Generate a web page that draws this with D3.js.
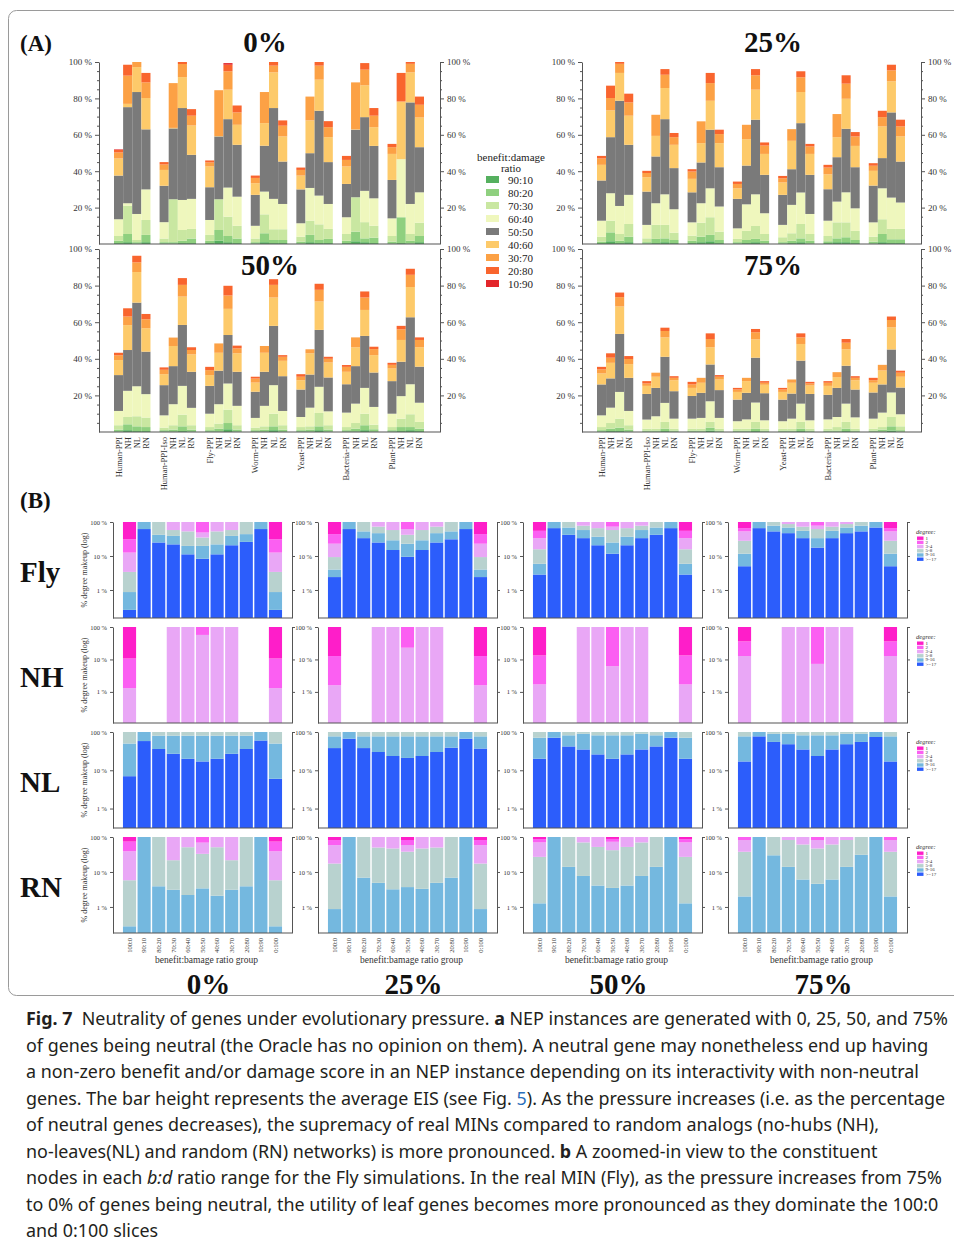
<!DOCTYPE html>
<html>
<head>
<meta charset="utf-8">
<script src="https://cdn.jsdelivr.net/npm/d3@7"></script>
<style>
  body { margin: 0; background: #fff; }
  svg { display: block; }
</style>
</head>
<body>
<script>
    // ---------- panel A data ----------
    var species = ['Human-PPI', 'Human-PPI-Iso', 'Fly-PPI', 'Worm-PPI', 'Yeast-PPI', 'Bacteria-PPI', 'Plant-PPI'];
    var netTypes = ['PPI', 'NH', 'NL', 'RN'];
    var ratioKeys = ['90:10', '80:20', '70:30', '60:40', '50:50', '40:60', '30:70', '20:80', '10:90'];
    var ratioColors = ['#55b05f', '#8fd07f', '#c9e7a1', '#eff7bd', '#7a7a7a', '#fdca6a', '#fca145', '#f9652e', '#e3262a'];
    var tickA = [20, 40, 60, 80, 100];

    // cumulative top (% of max EIS) of each ratio class, per bar (species x network)
    var eis0 = [
        [0.5, 1.8, 4.4, 13.6, 37.6, 47, 50.3, 51.7, 52],
        [1, 5.5, 21, 22.4, 75.2, 77, 92.5, 98.5, 98.5],
        [0.3, 1, 2.2, 16.5, 83.5, 97.2, 100, 100, 100],
        [1, 5, 13.2, 30, 63, 80.2, 88.8, 94, 94],
        [0.3, 1, 3, 12, 32, 40.7, 43.7, 45, 45],
        [0.3, 1, 24.6, 24.6, 63.5, 63.8, 88.4, 88.4, 88.4],
        [0.5, 1.8, 7.7, 24.2, 74.7, 91.7, 98.9, 100, 100],
        [0.5, 3, 8.3, 24.8, 49, 65.1, 70.5, 74.1, 74.1],
        [0.5, 1.8, 5, 13.2, 31.2, 42.6, 44.8, 45.9, 45.9],
        [1.8, 7.7, 24.6, 24.6, 59.1, 59.3, 84.5, 84.5, 84.5],
        [1, 4.4, 15, 31, 68.6, 84.8, 94.9, 98.5, 99.4],
        [0.5, 3, 10, 26, 54.5, 65.5, 72.3, 76.1, 76.1],
        [0.3, 1, 3, 10, 27, 33.4, 36.3, 37.6, 37.6],
        [1, 5.9, 16.3, 28.8, 54, 66.4, 83.5, 83.5, 83.5],
        [0.5, 2.2, 8.1, 24.8, 74.7, 94.3, 98, 100, 100],
        [0.5, 2.2, 8.1, 22, 45.3, 59.1, 65, 67.9, 67.9],
        [0.3, 1.3, 4, 11.4, 30, 37.6, 40.7, 42, 42],
        [1, 5, 12.8, 30.8, 49.9, 67.9, 81, 81, 81],
        [0.5, 2.2, 10.8, 26.6, 73.2, 90.3, 98, 100, 100],
        [0.5, 2.8, 8.3, 22, 45, 58.7, 64.2, 67.5, 67.5],
        [0.5, 1.8, 5.5, 14.7, 33, 42.6, 46.2, 48.4, 48.4],
        [1.5, 6.8, 25.7, 25.7, 62.8, 63, 88.8, 88.8, 88.8],
        [1, 3.1, 12, 29.2, 69.7, 87.2, 95.8, 99.4, 99.4],
        [0.5, 3.5, 10, 25.1, 53.9, 64.2, 70.5, 74.7, 74.7],
        [0.3, 1.3, 4.4, 14.1, 35.2, 49.5, 53.2, 55, 55],
        [0.5, 14.7, 14.7, 46.6, 46.6, 78.3, 78.3, 94, 94],
        [0.3, 1.8, 5.5, 22, 77.8, 94.3, 99, 100, 100],
        [1, 4.4, 11.7, 28.4, 53.2, 69.5, 76.5, 81, 81]
    ];
    var eis25 = [
        [0.5, 1.3, 4, 12.8, 34.9, 43.5, 47, 48.4, 48.4],
        [1.5, 6.4, 12.8, 27.9, 58.7, 73.4, 80.2, 87, 87],
        [0.5, 1.8, 5.5, 20.9, 78.7, 94, 99, 100, 100],
        [1, 4, 11, 27, 54.5, 70.5, 77.8, 82.6, 82.6],
        [0.3, 1, 3.1, 10.5, 28.8, 36.7, 39, 40.2, 40.2],
        [0.5, 2.8, 10.5, 22.4, 48.1, 59.4, 71, 71, 71],
        [1, 3.1, 10.5, 27.3, 68.6, 85.7, 93, 96.1, 96.1],
        [0.5, 2.2, 6.2, 19.1, 41.7, 54.5, 58.7, 61, 61],
        [0.5, 1.8, 4.6, 11.9, 28.4, 35.8, 39.8, 41.1, 41.1],
        [1, 4, 11.7, 22.4, 44.8, 55.4, 67.4, 67.4, 67.4],
        [1.5, 5, 14.7, 30.6, 62.8, 78.7, 88.4, 94, 94],
        [0.5, 2.2, 6.8, 20.6, 42.2, 55.4, 60.4, 62.8, 62.8],
        [0.3, 1, 2.8, 8.6, 24.8, 30.6, 33, 34.3, 34.3],
        [0.5, 2.2, 7.2, 21.8, 43.1, 57.6, 65.5, 65.5, 65.5],
        [1, 2.8, 9.9, 27.3, 68.3, 84.8, 92.7, 96.1, 96.1],
        [0.3, 1.8, 5.5, 16.9, 38, 49.5, 54.1, 55.8, 55.8],
        [0.3, 1, 3.7, 10.5, 27, 33.8, 36.1, 37.4, 37.4],
        [0.5, 1.8, 5.9, 21.5, 41.1, 56.7, 63.1, 63.1, 63.1],
        [1, 3.1, 11, 28.3, 66.4, 83.5, 91.6, 94.9, 94.9],
        [0.3, 1.8, 5.5, 16.5, 38, 49.5, 53.6, 55, 55],
        [0.5, 1.5, 4.4, 12.8, 30.1, 38.3, 42, 43.5, 43.5],
        [1, 3.1, 11.9, 23.3, 47.7, 58.7, 71.4, 71.4, 71.4],
        [1, 3.7, 11.9, 28.4, 63.3, 79.8, 88.1, 92.7, 92.7],
        [0.5, 2.2, 7.2, 19.6, 42.2, 53.9, 59.1, 61.5, 61.5],
        [0.3, 1.3, 4, 11.9, 32.1, 40.2, 43, 44.4, 44.4],
        [1, 5.5, 13.6, 30.6, 47.2, 64.6, 69.7, 73.2, 73.2],
        [0.5, 2.6, 8.3, 25.5, 72.3, 89.4, 95.4, 98.5, 98.5],
        [0.5, 2.6, 8.3, 22.8, 45.3, 59.1, 64.6, 68.3, 68.3]
    ];
    var eis50 = [
        [0.3, 1.3, 3.7, 11.5, 31.1, 39.3, 41.9, 43.3, 43.3],
        [1, 4.2, 8.2, 22.5, 44.8, 58.4, 63.1, 67.6, 67.6],
        [0.5, 3.1, 8.6, 25, 70.7, 87.4, 92.7, 96.3, 96.3],
        [0.5, 2.7, 7.9, 20.7, 43.9, 56.7, 61.6, 64.5, 64.5],
        [0.3, 1, 2.4, 9.1, 25.6, 31.6, 34, 35.3, 35.3],
        [0.3, 1.3, 3.7, 15.2, 36, 47, 51.6, 51.6, 51.6],
        [0.5, 3.1, 9.5, 25.2, 58.5, 74, 80.4, 84.1, 84.1],
        [0.3, 1.3, 3.7, 13.2, 32.9, 42.4, 44.8, 46.3, 46.3],
        [0.3, 1, 2.7, 10, 25.2, 31.1, 33.8, 35.6, 35.6],
        [0.3, 1.8, 4.6, 15.2, 33.5, 43.3, 48.4, 48.4, 48.4],
        [1.5, 4.9, 12.2, 26.5, 53, 67.3, 74.6, 79.9, 79.9],
        [0.3, 1.3, 3.7, 14.3, 32.9, 43, 45.7, 47.2, 47.2],
        [0.3, 1, 2.4, 7.7, 22, 27, 29.2, 30.2, 30.2],
        [0.3, 1.3, 3.1, 14.3, 32.9, 43.3, 47, 47, 47],
        [1, 3.1, 10, 25.6, 58, 73.5, 80.4, 83.5, 83.5],
        [0.3, 1.3, 3.7, 11.5, 30.5, 38.9, 41.1, 42, 42],
        [0.3, 1, 2.7, 8.2, 23.2, 28.3, 30.2, 31.6, 31.6],
        [0.3, 1.3, 3.1, 13.3, 31.4, 43, 45.2, 45.2, 45.2],
        [1, 3.1, 10.4, 24.7, 55.8, 71.3, 77.7, 81, 81],
        [0.3, 1.3, 3.7, 11.3, 29.8, 38, 40, 41.1, 41.1],
        [0.3, 1, 2.7, 10.6, 26.1, 32.9, 35.6, 36.6, 36.6],
        [0.3, 1.8, 4.9, 15.5, 36, 46.3, 51.7, 51.7, 51.7],
        [1, 3.7, 10, 24.1, 52.5, 66.7, 73.5, 76.8, 76.8],
        [0.3, 1.5, 4, 13.7, 32.5, 42, 45.3, 46.6, 46.6],
        [0.3, 1, 2.7, 10, 27.8, 34.7, 36.7, 37.8, 37.8],
        [0.5, 2.7, 7.3, 19.6, 38.4, 50.3, 56.1, 58, 58],
        [1, 2.7, 9.7, 26.1, 62.7, 79.2, 85.9, 89.2, 89.2],
        [0.5, 1.8, 5.5, 16, 35.7, 46.3, 50.3, 51.7, 51.7]
    ];
    var eis75 = [
        [0.3, 1, 2.7, 9.1, 26, 32, 34.2, 35.6, 35.6],
        [0.5, 1.8, 4.9, 13.3, 29.3, 37.8, 40.6, 43, 43],
        [0.5, 2.4, 7.3, 21.9, 53.6, 68.6, 73.7, 76.2, 76.2],
        [0.3, 1.3, 3.7, 11.5, 29.6, 37.1, 39.9, 41.5, 41.5],
        [0.2, 0.8, 1.8, 6.8, 20.8, 25.2, 26.5, 27.8, 27.8],
        [0.2, 0.8, 1.8, 8.6, 24.1, 30.2, 32.4, 32.4, 32.4],
        [0.5, 1.8, 5.5, 15.9, 41.1, 51.7, 55.2, 57, 57],
        [0.2, 0.8, 1.8, 7.3, 22.3, 28.3, 29.6, 30.5, 30.5],
        [0.2, 0.8, 1.8, 7.3, 19.7, 24.1, 26, 27.4, 27.4],
        [0.2, 0.8, 1.8, 7.7, 21.4, 26.9, 29.6, 29.6, 29.6],
        [0.8, 2.4, 5.5, 16.8, 36.9, 46.3, 50.8, 53.9, 53.9],
        [0.2, 0.8, 1.8, 7.7, 22.9, 28.7, 30.2, 31.1, 31.1],
        [0.2, 0.8, 1.8, 5.9, 17.7, 21.9, 23.2, 24.1, 24.1],
        [0.2, 0.8, 1.8, 6.9, 21.4, 27.8, 29.6, 29.6, 29.6],
        [0.5, 1.8, 5.5, 16.1, 40.6, 50.6, 54.5, 56.3, 56.3],
        [0.2, 0.8, 1.8, 6.4, 21.2, 25.8, 26.9, 27.8, 27.8],
        [0.2, 0.8, 1.8, 5.9, 17.7, 21.9, 23.2, 24.1, 24.1],
        [0.2, 0.8, 1.8, 7.3, 21, 26.9, 28.7, 28.7, 28.7],
        [0.5, 1.8, 5.5, 15.5, 39, 48.1, 51.7, 53.9, 53.9],
        [0.2, 0.8, 1.8, 6.4, 20.8, 25.4, 26.5, 27.4, 27.4],
        [0.2, 0.8, 1.8, 6.9, 20.3, 25.2, 26.9, 27.8, 27.8],
        [0.2, 0.8, 2.7, 8.2, 24.1, 30, 32.7, 32.7, 32.7],
        [0.5, 1.8, 5.5, 15.5, 36.2, 45.2, 48.8, 50.8, 50.8],
        [0.2, 0.8, 1.8, 8, 23.2, 28.3, 29.6, 30.5, 30.5],
        [0.2, 0.8, 1.8, 7.3, 21.6, 26.9, 28.3, 29.6, 29.6],
        [0.3, 1.3, 2.7, 10.6, 26, 33.6, 36.7, 36.7, 36.7],
        [0.8, 3.1, 8.2, 21.6, 45.1, 57.2, 61.2, 63.1, 63.1],
        [0.2, 1, 3.1, 9.7, 24.3, 30.2, 32.4, 33.5, 33.5]
    ];

    // ---------- panel B data ----------
    var ratioGroups = ['100:0', '90:10', '80:20', '70:30', '60:40', '50:50', '40:60', '30:70', '20:80', '10:90', '0:100'];
    var degreeKeys = ['>=17', '9-16', '5-8', '3-4', '2', '1'];
    var degreeColors = ['#2c5dfb', '#74b8df', '#b8d2cf', '#e9a7f6', '#fb5ff2', '#fe1ec9'];
    var pressureLabels = ['0%', '25%', '50%', '75%'];

    // cumulative % of nodes up to each degree class (>=17, 9-16, 5-8, 3-4, 2); the rest is degree 1
    var fly0 = [[0.26, 0.87, 3.4, 12.6, 31], [62, 100, 100, 100, 100], [25, 42, 100, 100, 100], [22, 39, 58, 100, 100], [11.2, 19.8, 53, 100, 100], [8.3, 19.8, 35, 49, 100], [11.2, 22, 53, 100, 100], [20.7, 39, 58, 100, 100], [26, 44, 100, 100, 100], [62, 100, 100, 100, 100], [0.26, 0.87, 3.4, 12.6, 31]];
    var fly25 = [[2.4, 4, 9.3, 23, 44], [62, 100, 100, 100, 100], [33.5, 53, 100, 100, 100], [25, 47, 73, 100, 100], [15, 29, 58, 100, 100], [9.5, 23, 42, 62, 100], [15, 29, 58, 100, 100], [25, 47, 73, 100, 100], [31, 53, 100, 100, 100], [62, 100, 100, 100, 100], [2.4, 4, 9.3, 23, 44]];
    var fly50 = [[2.85, 5.9, 15.8, 33.5, 55], [66, 100, 100, 100, 100], [42, 69, 100, 100, 100], [33.5, 58, 78, 100, 100], [20.7, 37, 66, 100, 100], [11.7, 25, 58, 73, 100], [20.7, 37, 66, 100, 100], [33.5, 58, 78, 100, 100], [42, 69, 100, 100, 100], [66, 100, 100, 100, 100], [2.85, 5.9, 15.8, 33.5, 55]];
    var fly75 = [[5, 11.7, 28, 53, 66], [66, 100, 100, 100, 100], [53, 78, 100, 100, 100], [47, 69, 87, 100, 100], [33.5, 55, 73, 100, 100], [17.7, 33.5, 62, 78, 100], [33.5, 55, 73, 100, 100], [47, 69, 87, 100, 100], [53, 78, 100, 100, 100], [69, 100, 100, 100, 100], [5, 11.7, 28, 53, 66]];

    var nh0 = [[0, 0, 0, 1.3, 10.7], null, null, [0, 0, 0, 100, 100], [0, 0, 0, 100, 100], [0, 0, 0, 57, 100], [0, 0, 0, 100, 100], [0, 0, 0, 100, 100], null, null, [0, 0, 0, 1.3, 10.7]];
    var nh25 = [[0, 0, 0, 1.6, 12.7], null, null, [0, 0, 0, 100, 100], [0, 0, 0, 100, 100], [0, 0, 0, 23, 100], [0, 0, 0, 100, 100], [0, 0, 0, 100, 100], null, null, [0, 0, 0, 1.6, 12.7]];
    var nh50 = [[0, 0, 0, 1.7, 13.3], null, null, [0, 0, 0, 100, 100], [0, 0, 0, 100, 100], [0, 0, 0, 6.2, 100], [0, 0, 0, 100, 100], [0, 0, 0, 100, 100], null, null, [0, 0, 0, 1.7, 13.3]];
    var nh75 = [[0, 0, 0, 12.7, 36], null, null, [0, 0, 0, 100, 100], [0, 0, 0, 100, 100], [0, 0, 0, 7.3, 100], [0, 0, 0, 100, 100], [0, 0, 0, 100, 100], null, null, [0, 0, 0, 12.7, 36]];

    var nl0 = [[7, 50, 100, 100, 100], [58, 100, 100, 100, 100], [36, 80, 100, 100, 100], [27, 80, 100, 100, 100], [20, 80, 100, 100, 100], [17, 80, 100, 100, 100], [20, 80, 100, 100, 100], [27, 80, 100, 100, 100], [36, 80, 100, 100, 100], [60, 100, 100, 100, 100], [6, 50, 100, 100, 100]];
    var nl25 = [[38, 77, 100, 100, 100], [67, 100, 100, 100, 100], [38, 77, 100, 100, 100], [30, 77, 100, 100, 100], [23.6, 77, 100, 100, 100], [21, 77, 100, 100, 100], [23.6, 77, 100, 100, 100], [30, 77, 100, 100, 100], [39, 77, 100, 100, 100], [67, 100, 100, 100, 100], [37, 77, 100, 100, 100]];
    var nl50 = [[20, 71, 100, 100, 100], [71, 100, 100, 100, 100], [42, 82, 100, 100, 100], [35, 90, 100, 100, 100], [26, 82, 100, 100, 100], [20, 82, 100, 100, 100], [26, 82, 100, 100, 100], [35, 90, 100, 100, 100], [42, 82, 100, 100, 100], [71, 100, 100, 100, 100], [20, 71, 100, 100, 100]];
    var nl75 = [[17, 77, 100, 100, 100], [77, 100, 100, 100, 100], [55, 90, 100, 100, 100], [48, 90, 100, 100, 100], [35, 82, 100, 100, 100], [23.6, 82, 100, 100, 100], [35, 82, 100, 100, 100], [48, 90, 100, 100, 100], [55, 90, 100, 100, 100], [74, 100, 100, 100, 100], [17, 77, 100, 100, 100]];

    var rn0 = [[0, 0.28, 5.8, 39, 74], [0, 100, 100, 100, 100], [0, 3.9, 100, 100, 100], [0, 3.1, 21.7, 100, 100], [0, 2.2, 51, 100, 100], [0, 3.4, 33, 69, 100], [0, 2.1, 51, 100, 100], [0, 3.1, 21.7, 100, 100], [0, 3.9, 100, 100, 100], [0, 100, 100, 100, 100], [0, 0.28, 5.8, 39, 74]];
    var rn25 = [[0, 0.87, 17.4, 58.6, 81.7], [0, 100, 100, 100, 100], [0, 6.9, 100, 100, 100], [0, 4.9, 50, 100, 100], [0, 3.2, 47, 100, 100], [0, 3.7, 38, 59, 82], [0, 3.3, 47, 100, 100], [0, 4.9, 50, 100, 100], [0, 6.9, 100, 100, 100], [0, 100, 100, 100, 100], [0, 0.87, 17.4, 58.6, 81.7]];
    var rn50 = [[0, 1.27, 27, 70, 87], [0, 100, 100, 100, 100], [0, 14, 100, 100, 100], [0, 7.7, 70, 100, 100], [0, 4.1, 52, 100, 100], [0, 3.5, 42, 73, 88], [0, 4.1, 52, 100, 100], [0, 7.7, 70, 100, 100], [0, 14, 100, 100, 100], [0, 100, 100, 100, 100], [0, 1.27, 27, 70, 87]];
    var rn75 = [[0, 2, 37.8, 81.6, 100], [0, 100, 100, 100, 100], [0, 30, 100, 100, 100], [0, 14, 82, 100, 100], [0, 6.1, 61, 100, 100], [0, 4.6, 47, 82, 100], [0, 6.1, 61, 100, 100], [0, 14, 82, 100, 100], [0, 31, 100, 100, 100], [0, 100, 100, 100, 100], [0, 2, 37.8, 81.6, 100]];

    var width = 954;
    var height = 1246;
    var serif = "'Liberation Serif', 'DejaVu Serif', serif";
    var axisColor = '#555';

    var svg = d3.select('body')
        .append('svg')
        .attr('width', width)
        .attr('height', height);

    // figure frame
    svg.append('rect')
        .attr('x', 8.5).attr('y', 10.5)
        .attr('width', 970).attr('height', 985)
        .attr('rx', 8)
        .attr('fill', 'none')
        .attr('stroke', '#9a9a9a');

    var styleAxis = (g, size) => {
        g.selectAll('path, line').attr('stroke', axisColor);
        g.selectAll('text')
            .attr('font-family', serif)
            .attr('font-size', size)
            .attr('fill', '#333');
    };

    // ---------- panel A ----------
    var panelsA = [
        {title: '0%', data: eis0, x0: 99, x1: 440, y0: 62, y1: 244, tx: 265, ty: 52, labels: false},
        {title: '25%', data: eis25, x0: 582, x1: 921, y0: 62, y1: 244, tx: 773, ty: 52, labels: false},
        {title: '50%', data: eis50, x0: 99, x1: 440, y0: 249, y1: 432, tx: 270, ty: 275, labels: true},
        {title: '75%', data: eis75, x0: 582, x1: 921, y0: 249, y1: 432, tx: 773, ty: 275, labels: true}
    ];

    var drawPanelA = (p) => {
        var g = svg.append('g');

        var yScale = d3.scaleLinear().domain([0, 100]).range([p.y1, p.y0]);
        var xGroup = d3.scaleBand().domain(species).range([p.x0 + 15, p.x1 - 16]).paddingInner(0.2);
        var xInner = d3.scaleBand().domain(netTypes).range([0, xGroup.bandwidth()]);

        p.data.forEach((cum, i) => {
            var sp = species[Math.floor(i / 4)];
            var nt = netTypes[i % 4];
            var x = xGroup(sp) + xInner(nt);
            cum.forEach((top, j) => {
                var bottom = j === 0 ? 0 : cum[j - 1];
                if (top <= bottom) return;
                g.append('rect')
                    .attr('x', x)
                    .attr('y', yScale(top))
                    .attr('width', xInner.bandwidth())
                    .attr('height', yScale(bottom) - yScale(top))
                    .attr('fill', ratioColors[j]);
            });

            if (p.labels) {
                g.append('text')
                    .attr('transform', 'translate(' + (x + xInner.bandwidth() / 2) + ',' + (p.y1 + 5) + ') rotate(-90)')
                    .attr('text-anchor', 'end')
                    .attr('dy', '0.35em')
                    .attr('font-family', serif)
                    .attr('font-size', 8.5)
                    .attr('fill', '#333')
                    .text(nt === 'PPI' ? sp : nt);
            }
        });

        var minor = d3.range(5, 100, 5).filter(d => d % 20 !== 0);

        var leftAxis = g.append('g')
            .attr('transform', 'translate(' + p.x0 + ',0)')
            .call(d3.axisLeft(yScale).tickValues(tickA).tickFormat(d => d + ' %').tickSize(4).tickSizeOuter(0));
        styleAxis(leftAxis, 9);
        g.append('g')
            .attr('transform', 'translate(' + p.x0 + ',0)')
            .call(d3.axisLeft(yScale).tickValues(minor).tickFormat('').tickSize(2).tickSizeOuter(0))
            .call(a => a.select('.domain').remove())
            .selectAll('line').attr('stroke', axisColor);

        var rightAxis = g.append('g')
            .attr('transform', 'translate(' + p.x1 + ',0)')
            .call(d3.axisRight(yScale).tickValues(tickA).tickFormat(d => d + ' %').tickSize(4).tickSizeOuter(0));
        styleAxis(rightAxis, 9);
        g.append('g')
            .attr('transform', 'translate(' + p.x1 + ',0)')
            .call(d3.axisRight(yScale).tickValues(minor).tickFormat('').tickSize(2).tickSizeOuter(0))
            .call(a => a.select('.domain').remove())
            .selectAll('line').attr('stroke', axisColor);

        g.append('line')
            .attr('x1', p.x0).attr('x2', p.x1)
            .attr('y1', p.y1).attr('y2', p.y1)
            .attr('stroke', axisColor)
            .attr('stroke-width', 1.2);

        g.append('text')
            .attr('x', p.tx).attr('y', p.ty)
            .attr('text-anchor', 'middle')
            .attr('font-family', serif)
            .attr('font-weight', 'bold')
            .attr('font-size', 29)
            .attr('fill', '#111')
            .text(p.title);
    };

    panelsA.forEach(drawPanelA);

    // legend for panel A
    var legA = svg.append('g').attr('transform', 'translate(486,0)');
    legA.append('text').attr('x', 25).attr('y', 161).attr('text-anchor', 'middle')
        .attr('font-family', serif).attr('font-size', 11).attr('fill', '#222').text('benefit:damage');
    legA.append('text').attr('x', 25).attr('y', 172).attr('text-anchor', 'middle')
        .attr('font-family', serif).attr('font-size', 11).attr('fill', '#222').text('ratio');
    ratioKeys.forEach((k, i) => {
        legA.append('rect')
            .attr('x', 0).attr('y', 176 + i * 13)
            .attr('width', 13).attr('height', 7)
            .attr('fill', ratioColors[i]);
        legA.append('text')
            .attr('x', 22).attr('y', 183.5 + i * 13)
            .attr('font-family', serif).attr('font-size', 11).attr('fill', '#222')
            .text(k);
    });

    svg.append('text').attr('x', 20).attr('y', 51)
        .attr('font-family', serif).attr('font-weight', 'bold').attr('font-size', 23).attr('fill', '#111')
        .text('(A)');
    svg.append('text').attr('x', 20).attr('y', 508)
        .attr('font-family', serif).attr('font-weight', 'bold').attr('font-size', 23).attr('fill', '#111')
        .text('(B)');

    // ---------- panel B ----------
    var rowsB = [
        {name: 'Fly', min: 0.15, data: [fly0, fly25, fly50, fly75]},
        {name: 'NH', min: 0.11, data: [nh0, nh25, nh50, nh75]},
        {name: 'NL', min: 0.31, data: [nl0, nl25, nl50, nl75]},
        {name: 'RN', min: 0.18, data: [rn0, rn25, rn50, rn75]}
    ];

    rowsB.forEach((row, r) => {
        var y0 = 522 + 105 * r;
        var y1 = y0 + 96;
        var yScale = d3.scaleLog().domain([row.min, 100]).range([y1, y0]).clamp(true);

        row.data.forEach((bars, c) => {
            var g = svg.append('g');
            var ax0 = 113 + 205 * c;
            var ax1 = 292 + 205 * c;
            var xScale = d3.scaleBand().domain(ratioGroups)
                .range([ax0 + 8.5, ax1 - 8.5]).padding(0.1);

            bars.forEach((cum, i) => {
                if (!cum) return;
                var bounds = [row.min].concat(cum).concat([100]);
                for (var j = 0; j < degreeKeys.length; j++) {
                    var lo = Math.max(bounds[j], row.min);
                    var hi = Math.max(bounds[j + 1], row.min);
                    if (hi <= lo) continue;
                    g.append('rect')
                        .attr('x', xScale(ratioGroups[i]))
                        .attr('y', yScale(hi))
                        .attr('width', xScale.bandwidth())
                        .attr('height', yScale(lo) - yScale(hi))
                        .attr('fill', degreeColors[j]);
                }
            });

            var la = g.append('g')
                .attr('transform', 'translate(' + ax0 + ',0)')
                .call(d3.axisLeft(yScale).tickValues([1, 10, 100]).tickFormat(d => d + ' %').tickSize(3).tickSizeOuter(0));
            styleAxis(la, 6.5);
            var ra = g.append('g')
                .attr('transform', 'translate(' + ax1 + ',0)')
                .call(d3.axisRight(yScale).tickValues([1, 10, 100]).tickFormat('').tickSize(3).tickSizeOuter(0));
            styleAxis(ra, 6.5);
            g.append('line')
                .attr('x1', ax0).attr('x2', ax1)
                .attr('y1', y1).attr('y2', y1)
                .attr('stroke', axisColor).attr('stroke-width', 1.2);

            if (c === 0) {
                g.append('text')
                    .attr('transform', 'translate(' + (ax0 - 26) + ',' + ((y0 + y1) / 2) + ') rotate(-90)')
                    .attr('text-anchor', 'middle')
                    .attr('font-family', serif).attr('font-size', 8).attr('fill', '#333')
                    .text('% degree makeup (log)');
            }

            if (r === rowsB.length - 1) {
                ratioGroups.forEach(k => {
                    g.append('text')
                        .attr('transform', 'translate(' + (xScale(k) + xScale.bandwidth() / 2) + ',' + (y1 + 5) + ') rotate(-90)')
                        .attr('text-anchor', 'end')
                        .attr('dy', '0.35em')
                        .attr('font-family', serif).attr('font-size', 6.5).attr('fill', '#333')
                        .text(k);
                });
                g.append('text')
                    .attr('x', (ax0 + ax1) / 2 + 4).attr('y', y1 + 30)
                    .attr('text-anchor', 'middle')
                    .attr('font-family', serif).attr('font-size', 9.5).attr('fill', '#333')
                    .text('benefit:bamage ratio group');
                g.append('text')
                    .attr('x', (ax0 + ax1) / 2 + 6).attr('y', y1 + 61)
                    .attr('text-anchor', 'middle')
                    .attr('font-family', serif).attr('font-weight', 'bold').attr('font-size', 29).attr('fill', '#111')
                    .text(pressureLabels[c]);
            }
        });

        // row label
        svg.append('text')
            .attr('x', 20).attr('y', y0 + 60)
            .attr('font-family', serif).attr('font-weight', 'bold').attr('font-size', 29).attr('fill', '#111')
            .text(row.name);

        // degree legend
        var leg = svg.append('g').attr('transform', 'translate(916,' + (y0 + 12) + ')');
        leg.append('text').attr('x', 0).attr('y', 0)
            .attr('font-family', serif).attr('font-style', 'italic').attr('font-size', 6.5).attr('fill', '#333')
            .text('degree:');
        degreeKeys.slice().reverse().forEach((k, i) => {
            leg.append('rect')
                .attr('x', 1).attr('y', 2.5 + i * 4.2)
                .attr('width', 6.5).attr('height', 3.4)
                .attr('fill', degreeColors[degreeKeys.length - 1 - i]);
            leg.append('text')
                .attr('x', 9.5).attr('y', 5.6 + i * 4.2)
                .attr('font-family', serif).attr('font-size', 5).attr('fill', '#333')
                .text(k);
        });
    });

    // ---------- caption ----------
    var captionLines = [
        [['Fig. 7', 'bold'], ['  Neutrality of genes under evolutionary pressure. '], ['a', 'bold'], [' NEP instances are generated with 0, 25, 50, and 75%']],
        [['of genes being neutral (the Oracle has no opinion on them). A neutral gene may nonetheless end up having']],
        [['a non-zero benefit and/or damage score in an NEP instance depending on its interactivity with non-neutral']],
        [['genes. The bar height represents the average EIS (see Fig. '], ['5', 'link'], ['). As the pressure increases (i.e. as the percentage']],
        [['of neutral genes decreases), the supremacy of real MINs compared to random analogs (no-hubs (NH),']],
        [['no-leaves(NL) and random (RN) networks) is more pronounced. '], ['b', 'bold'], [' A zoomed-in view to the constituent']],
        [['nodes in each '], ['b:d', 'italic'], [' ratio range for the Fly simulations. In the real MIN (Fly), as the pressure increases from 75%']],
        [['to 0% of genes being neutral, the utility of leaf genes becomes more pronounced as they dominate the 100:0']],
        [['and 0:100 slices']]
    ];

    captionLines.forEach((parts, i) => {
        var t = svg.append('text')
            .attr('x', 26)
            .attr('y', 1025 + i * 26.5)
            .attr('font-family', "'Noto Sans', 'Open Sans', sans-serif")
            .attr('font-size', 17.9)
            .attr('fill', '#231f20')
            .attr('xml:space', 'preserve');
        parts.forEach(part => {
            var s = t.append('tspan').text(part[0]);
            if (part[1] === 'bold') s.attr('font-weight', 'bold');
            if (part[1] === 'italic') s.attr('font-style', 'italic');
            if (part[1] === 'link') s.attr('fill', '#2a6ebb');
        });
    });
</script>
</body>
</html>
